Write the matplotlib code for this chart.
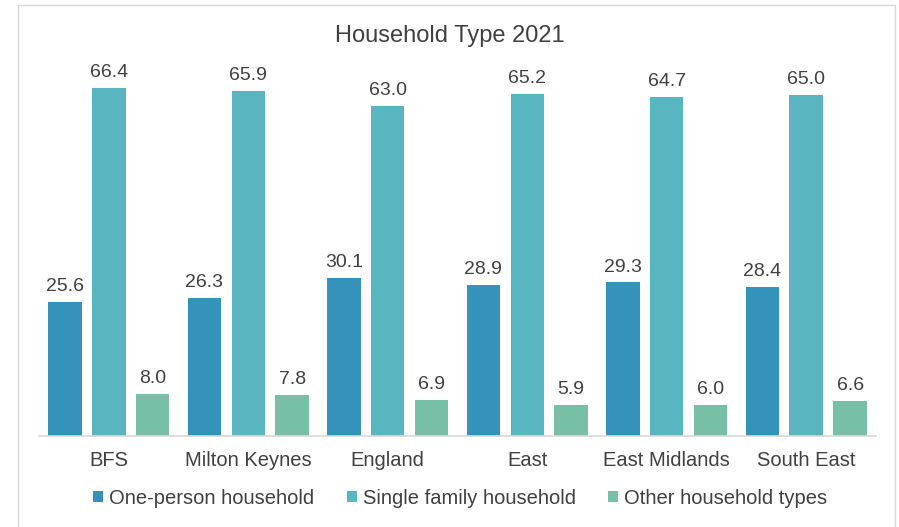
import numpy as np
import matplotlib
matplotlib.use("Agg")
import matplotlib.pyplot as plt
from matplotlib.patches import Rectangle

plt.rcParams['font.family'] = ['Liberation Sans', 'DejaVu Sans']

# Data.
areas = ['BFS', 'Milton Keynes', 'England', 'East', 'East Midlands', 'South East']
one_person = [25.6, 26.3, 30.1, 28.9, 29.3, 28.4]
single_family = [66.4, 65.9, 63.0, 65.2, 64.7, 65.0]
other_types = [8.0, 7.8, 6.9, 5.9, 6.0, 6.6]
series_names = ['One-person household', 'Single family household', 'Other household types']

colors = ['#3593BB', '#59B6C1', '#77BFA6']
text_color = '#404040'

fig = plt.figure(figsize=(8.99, 5.27), dpi=100)
ax = fig.add_axes([0.0434, 0.1727, 0.931, 0.696])

x = np.arange(len(areas))
width = 0.24
offsets = [-0.315, 0.0, 0.315]

for vals, off, col, name in zip([one_person, single_family, other_types],
                                offsets, colors, series_names):
    bars = ax.bar(x + off, vals, width=width, color=col, label=name)
    for b, v in zip(bars, vals):
        ax.annotate('%.1f' % v, (b.get_x() + b.get_width() / 2, v),
                    xytext=(0, 5), textcoords='offset points',
                    ha='center', va='bottom', fontsize=14, color=text_color)

ax.set_xlim(-0.5, len(areas) - 0.5)
ax.set_ylim(0, 70)
ax.set_yticks([])
ax.set_xticks(x)
ax.set_xticklabels(areas, fontsize=14.5, color=text_color)
ax.tick_params(axis='x', length=0, pad=11)

for name, spine in ax.spines.items():
    spine.set_visible(name == 'bottom')
ax.spines['bottom'].set_color('#D9D9D9')
ax.spines['bottom'].set_linewidth(1.2)

fig.text(0.5, 1 - 36 / 527, 'Household Type 2021', ha='center', va='center',
         fontsize=17, color=text_color)

fig.legend(loc='center', bbox_to_anchor=(0.512, 1 - 498 / 527), ncol=3,
           frameon=False, fontsize=14.5, handlelength=0.5, handleheight=0.5,
           handletextpad=0.3, columnspacing=1.6, labelcolor=text_color)

# Light chart-area border.
fig.patches.append(Rectangle((18 / 899, -0.01), (895 - 18) / 899, 1 - 5 / 527 + 0.01,
                             transform=fig.transFigure, fill=False,
                             edgecolor='#D9D9D9', linewidth=1.0))

fig.savefig('out.png', dpi=100)
